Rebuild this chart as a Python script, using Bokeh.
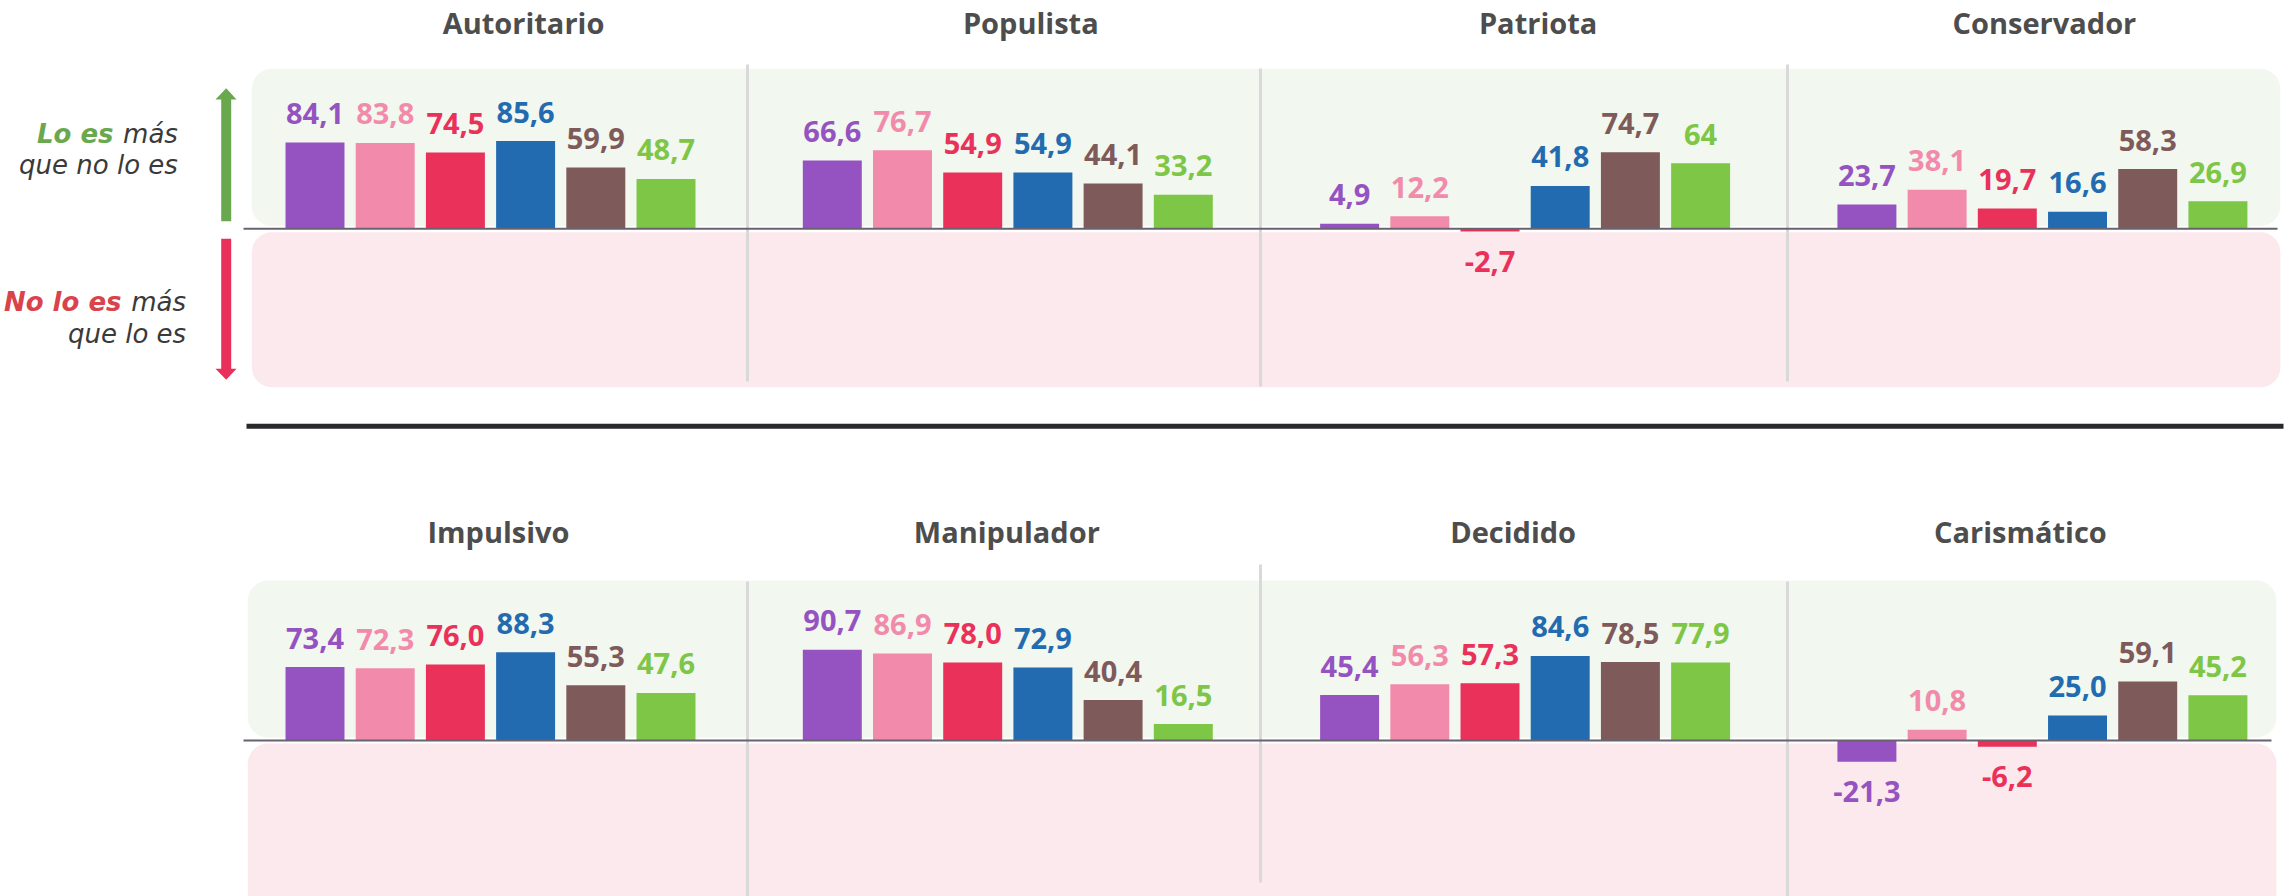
import numpy as np
import pandas as pd
from bokeh.plotting import figure
from bokeh.models import Range1d, ColumnDataSource
from bokeh.core.properties import value
from bokeh.embed import file_html
from bokeh.resources import INLINE

# ---------------- data ----------------
traits_top = ["Autoritario", "Populista", "Patriota", "Conservador"]
traits_bottom = ["Impulsivo", "Manipulador", "Decidido", "Carismático"]
series = ["Serie 1", "Serie 2", "Serie 3", "Serie 4", "Serie 5", "Serie 6"]
colors = ["#9553c1", "#f28aab", "#e9315a", "#236bb0", "#7f5a5a", "#7dc646"]

autoritario = ["84,1", "83,8", "74,5", "85,6", "59,9", "48,7"]
populista = ["66,6", "76,7", "54,9", "54,9", "44,1", "33,2"]
patriota = ["4,9", "12,2", "-2,7", "41,8", "74,7", "64"]
conservador = ["23,7", "38,1", "19,7", "16,6", "58,3", "26,9"]
impulsivo = ["73,4", "72,3", "76,0", "88,3", "55,3", "47,6"]
manipulador = ["90,7", "86,9", "78,0", "72,9", "40,4", "16,5"]
decidido = ["45,4", "56,3", "57,3", "84,6", "78,5", "77,9"]
carismatico = ["-21,3", "10,8", "-6,2", "25,0", "59,1", "45,2"]

rows = {
    "top": (traits_top, [autoritario, populista, patriota, conservador]),
    "bottom": (traits_bottom, [impulsivo, manipulador, decidido, carismatico]),
}

# ---------------- layout (pixels) ----------------
W, H = 2292, 896
PAD = 0                      # bokeh page template has no body margin
SLOT = 70.2                  # px per bar slot
X0 = 314.5                   # page x of first bar centre
GROUP_GAP = 1.369            # extra slots between groups
BAR_W = 0.84
TXT = -10                    # svg text baseline correction (px)
ROWCFG = {"top": (228.3, 1.025), "bottom": (740.0, 1.0)}   # zero line page y, px per unit

n = len(series)
GP = n + GROUP_GAP


def dx(px):
    return (px - X0) / SLOT


def ppx(x):
    return X0 + x * SLOT


def dy(py, row):
    zero, sc = ROWCFG[row]
    return (zero - py) / sc


def yrange(row):
    zero, sc = ROWCFG[row]
    end = (zero - PAD) / sc
    return Range1d(end - H / sc, end)


recs = []
for row, (traits, data) in rows.items():
    for g, (trait, vals) in enumerate(zip(traits, data)):
        for i, s in enumerate(vals):
            v = float(s.replace(",", "."))
            recs.append(dict(row=row, trait=trait, series=series[i], x=g * GP + i,
                             value=v, label=s, color=colors[i],
                             yoff=(-19 if v >= 0 else 40) + TXT))
df = pd.DataFrame(recs)

p = figure(width=W, height=H, x_range=Range1d(dx(PAD), dx(PAD + W)), y_range=yrange("top"),
           output_backend="svg", toolbar_location=None, min_border=0,
           x_axis_location=None, y_axis_location=None)
p.extra_y_ranges = {"bottom": yrange("bottom")}
p.grid.visible = False
p.outline_line_color = None
p.background_fill_color = "white"


def rrect(x0, y0, x1, y1, r, row, k=10):
    pts = []
    corners = [(x1 - r, y0 + r, -90, 0), (x1 - r, y1 - r, 0, 90),
               (x0 + r, y1 - r, 90, 180), (x0 + r, y0 + r, 180, 270)]
    for cx, cy, a0, a1 in corners:
        for a in np.linspace(np.radians(a0), np.radians(a1), k):
            pts.append((cx + r * np.cos(a), cy + r * np.sin(a)))
    xs = [dx(a) for a, b in pts]
    ys = [dy(b, row) for a, b in pts]
    return xs, ys


xmin, xmax = df.x.min(), df.x.max()
left_px, right_px = ppx(xmin - 0.9), ppx(xmax + 0.89)
panels = {
    "top": [(68.3, 225.5, "#f2f7ef"), (231.7, 386.7, "#fce9ed")],
    "bottom": [(580.0, 737.0, "#f2f7ef"), (743.0, 990.0, "#fce9ed")],
}
for row, lst in panels.items():
    shift = 0 if row == "top" else -4
    for y0, y1, col in lst:
        xs, ys = rrect(left_px + shift, y0, right_px + shift, y1, 20, row)
        p.patch(xs, ys, fill_color=col, line_color=None,
                y_range_name="default" if row == "top" else "bottom")

# separators between groups
sep_px = [747, 1260, 1787]
sep_x = [dx(s) for s in sep_px]
sep_ext = {"top": [(64, 381), (68, 386), (64, 381)],
           "bottom": [(581, 900), (564, 882), (581, 900)]}
for row, ext in sep_ext.items():
    p.segment(x0=sep_x, x1=sep_x, y0=[dy(a, row) for a, b in ext], y1=[dy(b, row) for a, b in ext],
              line_color="#d9d9d9", line_width=3,
              y_range_name="default" if row == "top" else "bottom")

# bars and labels
for row in rows:
    src = ColumnDataSource(df[df.row == row])
    rn = "default" if row == "top" else "bottom"
    p.vbar(x="x", top="value", bottom=0, width=BAR_W, fill_color="color", line_color=None,
           source=src, y_range_name=rn)
    p.text(x="x", y="value", text="label", text_color="color", y_offset="yoff",
           text_align="center", text_baseline="alphabetic",
           text_font=value("Open Sans"), text_font_style="bold", text_font_size="29px",
           source=src, y_range_name=rn)

# zero lines
p.segment(x0=[dx(243)], x1=[dx(2277)], y0=[0], y1=[0], line_color="#67636f", line_width=2)
p.segment(x0=[dx(243)], x1=[dx(2271)], y0=[0], y1=[0], line_color="#67636f", line_width=2,
          y_range_name="bottom")

# black rule between rows
p.segment(x0=[dx(246)], x1=[dx(2283)], y0=[dy(425.7, "top")], y1=[dy(425.7, "top")],
          line_color="#29282d", line_width=5)

# titles
title_shift = {"top": [33, 23, 13, 2], "bottom": [8, -1, -12, -22]}
title_base = {"top": 31.7, "bottom": 541.0}
for row, (traits, _) in rows.items():
    cx = [g * GP + (n - 1) / 2 for g in range(len(traits))]
    p.text(x=cx, y=[dy(title_base[row], row)] * len(traits), text=traits,
           x_offset=title_shift[row], y_offset=TXT, text_align="center", text_baseline="alphabetic",
           text_color="#4d4d4d", text_font=value("Open Sans"), text_font_style="bold",
           text_font_size="29px", y_range_name="default" if row == "top" else "bottom")

# arrows
def arrow(y_base, y_end, tip):
    sx0, sx1, hx0, hx1, cx = 220.7, 230.7, 215.0, 236.0, 225.7
    pts = [(sx0, y_end), (sx0, y_base), (hx0, y_base), (cx, tip), (hx1, y_base), (sx1, y_base), (sx1, y_end)]
    return [dx(a) for a, b in pts], [dy(b, "top") for a, b in pts]

ax, ay = arrow(99.0, 220.7, 87.7)
p.patch(ax, ay, fill_color="#6aa84f", line_color=None)
ax, ay = arrow(368.3, 238.3, 379.3)
p.patch(ax, ay, fill_color="#e8305a", line_color=None)

# side captions
cap_font = dict(text_font=value("DejaVu Sans"), text_font_size="26px", text_align="right",
                text_baseline="alphabetic", y_offset=TXT)
p.text(x=[dx(113)], y=[dy(143, "top")], text=["Lo es"], text_color="#6aa84f",
       text_font_style="bold italic", **cap_font)
p.text(x=[dx(177.4)], y=[dy(143, "top")], text=["más"], text_color="#3a3a3a",
       text_font_style="italic", **cap_font)
p.text(x=[dx(177.4)], y=[dy(174, "top")], text=["que no lo es"], text_color="#3a3a3a",
       text_font_style="italic", **cap_font)
p.text(x=[dx(121)], y=[dy(311, "top")], text=["No lo es"], text_color="#d9434b",
       text_font_style="bold italic", **cap_font)
p.text(x=[dx(185.6)], y=[dy(311, "top")], text=["más"], text_color="#3a3a3a",
       text_font_style="italic", **cap_font)
p.text(x=[dx(185.6)], y=[dy(343, "top")], text=["que lo es"], text_color="#3a3a3a",
       text_font_style="italic", **cap_font)

open("out.html", "w").write(file_html(p, INLINE))
